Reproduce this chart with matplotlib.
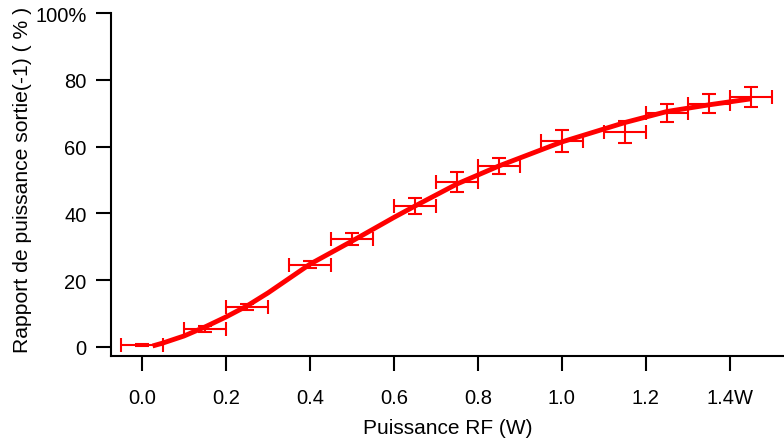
import matplotlib.pyplot as plt

plt.rcParams['font.family'] = ['Liberation Sans', 'DejaVu Sans']

# measured points
power = [0.0, 0.15, 0.25, 0.40, 0.50, 0.65, 0.75, 0.85, 1.00, 1.15, 1.25, 1.35, 1.45]
ratio = [0.5, 5.4, 12.0, 24.6, 32.3, 42.2, 49.4, 54.2, 61.7, 64.4, 70.0, 72.8, 74.9]
power_err = [0.05] * 13
ratio_err = [0.3, 1.0, 0.8, 1.0, 1.8, 2.5, 3.0, 2.4, 3.3, 3.2, 2.7, 2.8, 3.0]

# fitted curve
fit_x = [0.025, 0.05, 0.10, 0.15, 0.20, 0.25, 0.30, 0.40, 0.50, 0.60, 0.65, 0.75,
         0.85, 1.00, 1.15, 1.25, 1.35, 1.45]
fit_y = [0.3, 1.2, 3.3, 6.0, 9.0, 12.3, 16.2, 24.8, 31.7, 38.8, 42.2, 48.8,
         54.2, 61.4, 67.2, 70.5, 72.5, 74.3]

xticks = [0.0, 0.2, 0.4, 0.6, 0.8, 1.0, 1.2, 1.4]
xticklabels = ["0.0", "0.2", "0.4", "0.6", "0.8", "1.0", "1.2", "1.4W"]
yticks = [0, 20, 40, 60, 80, 100]
yticklabels = ["0", "20", "40", "60", "80", "100%"]

fig = plt.figure(figsize=(7.84, 4.39), dpi=100)
ax = fig.add_axes([111 / 784, 82 / 439, 1 - 111 / 784, 343 / 439])

ax.errorbar(power, ratio, xerr=power_err, yerr=ratio_err, fmt='none',
            ecolor='#ff0000', elinewidth=1.5, capsize=4.7, capthick=1.5)
ax.plot(fit_x, fit_y, color='#ff0000', lw=3.5, solid_capstyle='butt')

ax.set_xlim(-0.074, 1.529)
ax.set_ylim(-2.7, 100)
ax.set_xticks(xticks)
ax.set_xticklabels(xticklabels)
ax.set_yticks(yticks)
ax.set_yticklabels(yticklabels)

for side in ['top', 'right']:
    ax.spines[side].set_visible(False)
for side in ['left', 'bottom']:
    ax.spines[side].set_linewidth(1.5)
ax.tick_params(axis='x', direction='out', length=11, width=1.5, pad=12, labelsize=14.5)
ax.tick_params(axis='y', direction='out', length=11, width=1.5, pad=6.5, labelsize=14.5)

ax.set_xlabel("Puissance RF (W)", fontsize=15, labelpad=8)
ax.set_ylabel("Rapport de puissance sortie(-1) ( % )", fontsize=15.2)
ax.yaxis.set_label_coords(-0.117, 0.515)

fig.savefig("out.png", dpi=100)
